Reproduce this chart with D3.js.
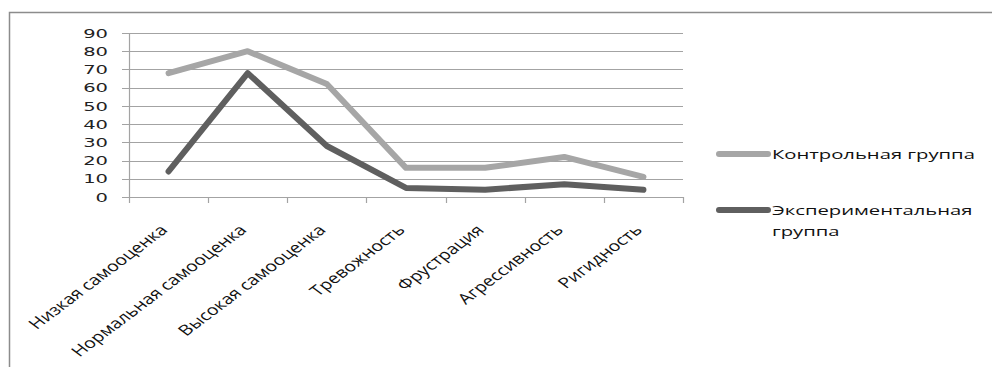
<!DOCTYPE html>
<html>
<head>
<meta charset="utf-8">
<script src="https://cdn.jsdelivr.net/npm/d3@7"></script>
<style>
  html, body { margin: 0; padding: 0; background: #fff; }
  svg { display: block; }
</style>
</head>
<body>
<svg id="chart" width="992" height="367"></svg>
<script>
const categories = [
  "Низкая самооценка",
  "Нормальная самооценка",
  "Высокая самооценка",
  "Тревожность",
  "Фрустрация",
  "Агрессивность",
  "Ригидность"
];
const seriesNames = ["Контрольная группа", "Экспериментальная группа"];
const controlValues = [68, 80, 62, 16, 16, 22, 11];
const experimentalValues = [14, 68, 28, 5, 4, 7, 4];
const yTicks = [0, 10, 20, 30, 40, 50, 60, 70, 80, 90];

const colors = ["#a6a6a6", "#5f5f5f"];
const stretch = 1.5;       // wide text rendering
const labelStretch = 1.33; // rotated category labels

const svg = d3.select("#chart");

// outer frame (top and left edges)
svg.append("path")
  .attr("d", "M9.5,367 V12.5 H992")
  .attr("fill", "none")
  .attr("stroke", "#8c8c8c")
  .attr("stroke-width", 1.5);

const plot = { left: 129, right: 683, top: 33, bottom: 197 };

const x = d3.scaleBand().domain(categories).range([plot.left, plot.right]);
const y = d3.scaleLinear().domain([0, 90]).range([plot.bottom, plot.top]);

// horizontal gridlines (with tick stubs left of the axis)
svg.append("g").selectAll("line")
  .data(yTicks.filter(t => t > 0))
  .join("line")
  .attr("x1", plot.left - 7).attr("x2", plot.right)
  .attr("y1", d => Math.round(y(d)) + 0.5).attr("y2", d => Math.round(y(d)) + 0.5)
  .attr("stroke", "#a3a3a3").attr("stroke-width", 1.2);

// y axis
svg.append("line")
  .attr("x1", plot.left + 0.5).attr("x2", plot.left + 0.5)
  .attr("y1", plot.top).attr("y2", plot.bottom)
  .attr("stroke", "#a3a3a3").attr("stroke-width", 1.2);

// x axis baseline and category ticks
svg.append("line")
  .attr("x1", plot.left - 7).attr("x2", plot.right)
  .attr("y1", y(0) + 0.5).attr("y2", y(0) + 0.5)
  .attr("stroke", "#a3a3a3").attr("stroke-width", 1.2);

const tickXs = categories.map(c => x(c)).concat([plot.right]);
svg.append("g").selectAll("line")
  .data(tickXs)
  .join("line")
  .attr("x1", d => Math.round(d) + 0.5).attr("x2", d => Math.round(d) + 0.5)
  .attr("y1", y(0)).attr("y2", y(0) + 6)
  .attr("stroke", "#a3a3a3").attr("stroke-width", 1.2);

// y tick labels
svg.append("g").selectAll("text")
  .data(yTicks)
  .join("text")
  .attr("transform", d => `translate(108,${y(d)}) scale(${stretch},1)`)
  .attr("text-anchor", "end")
  .attr("dy", "0.36em")
  .attr("font-family", "DejaVu Sans, Verdana, sans-serif")
  .attr("font-size", 13)
  .attr("fill", "#222")
  .text(d => d);

// rotated category labels
svg.append("g").selectAll("text")
  .data(categories)
  .join("text")
  .attr("transform", d => `translate(${x(d) + x.bandwidth() / 2},${plot.bottom + 34}) scale(${labelStretch},1) rotate(-45)`)
  .attr("text-anchor", "end")
  .attr("font-family", "Open Sans, Noto Sans, sans-serif")
  .attr("font-size", 14.6)
  .attr("fill", "#111")
  .text(d => d);

// series lines
const line = d3.line()
  .x((d, i) => x(categories[i]) + x.bandwidth() / 2)
  .y(d => y(d));

[controlValues, experimentalValues].forEach((vals, k) => {
  svg.append("path")
    .datum(vals)
    .attr("d", line)
    .attr("fill", "none")
    .attr("stroke", colors[k])
    .attr("stroke-width", 6)
    .attr("stroke-linejoin", "round")
    .attr("stroke-linecap", "round");
});

// legend
const legend = svg.append("g");
const legendRows = [
  { lineY: 154, lines: ["Контрольная группа"], textY: 159 },
  { lineY: 210, lines: ["Экспериментальная", "группа"], textY: 215 }
];
legendRows.forEach((row, k) => {
  legend.append("line")
    .attr("x1", 719).attr("x2", 768)
    .attr("y1", row.lineY).attr("y2", row.lineY)
    .attr("stroke", colors[k])
    .attr("stroke-width", 6)
    .attr("stroke-linecap", "round");
  row.lines.forEach((t, j) => {
    legend.append("text")
      .attr("transform", `translate(772,${row.textY + j * 21}) scale(${stretch},1)`)
      .attr("font-family", "Open Sans, Noto Sans, sans-serif")
      .attr("font-size", 13.5)
      .attr("fill", "#111")
      .text(t);
  });
});
</script>
</body>
</html>
